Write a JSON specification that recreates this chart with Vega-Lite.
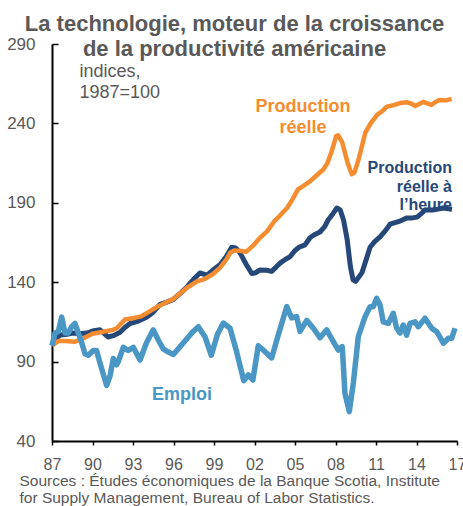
{
  "$schema": "https://vega.github.io/schema/vega-lite/v6.json",
  "width": 405,
  "height": 397,
  "autosize": {"type": "none"},
  "padding": {"left": 52, "top": 44, "right": 6, "bottom": 65},
  "background": "white",
  "config": {"view": {"stroke": null}, "font": "Liberation Sans"},
  "title": {
    "text": ["La technologie, moteur de la croissance", "de la productivité américaine"],
    "font": "Liberation Sans",
    "fontSize": 22,
    "fontWeight": "bold",
    "color": "#595959",
    "anchor": "middle",
    "frame": "group",
    "dx": -20,
    "lineHeight": 25,
    "offset": -26
  },
  "datasets": {
    "series": [
      {"s": "navy", "t": 1987.00, "v": 101},
      {"s": "navy", "t": 1987.30, "v": 104.5},
      {"s": "navy", "t": 1987.59, "v": 106.7},
      {"s": "navy", "t": 1988.00, "v": 107},
      {"s": "navy", "t": 1988.56, "v": 108},
      {"s": "navy", "t": 1989.00, "v": 107.5},
      {"s": "navy", "t": 1989.59, "v": 108},
      {"s": "navy", "t": 1990.10, "v": 109.5},
      {"s": "navy", "t": 1990.56, "v": 110},
      {"s": "navy", "t": 1990.90, "v": 107.5},
      {"s": "navy", "t": 1991.15, "v": 105.5},
      {"s": "navy", "t": 1991.60, "v": 106.5},
      {"s": "navy", "t": 1992.04, "v": 108.5},
      {"s": "navy", "t": 1992.40, "v": 111.5},
      {"s": "navy", "t": 1992.78, "v": 114},
      {"s": "navy", "t": 1993.20, "v": 115},
      {"s": "navy", "t": 1993.52, "v": 116},
      {"s": "navy", "t": 1994.00, "v": 118},
      {"s": "navy", "t": 1994.48, "v": 121},
      {"s": "navy", "t": 1995.00, "v": 126},
      {"s": "navy", "t": 1995.50, "v": 127.5},
      {"s": "navy", "t": 1995.96, "v": 129},
      {"s": "navy", "t": 1996.50, "v": 133},
      {"s": "navy", "t": 1997.00, "v": 137},
      {"s": "navy", "t": 1997.50, "v": 142},
      {"s": "navy", "t": 1997.96, "v": 145.8},
      {"s": "navy", "t": 1998.48, "v": 144.5},
      {"s": "navy", "t": 1998.90, "v": 147.5},
      {"s": "navy", "t": 1999.44, "v": 151},
      {"s": "navy", "t": 1999.90, "v": 156},
      {"s": "navy", "t": 2000.31, "v": 162},
      {"s": "navy", "t": 2000.60, "v": 161.5},
      {"s": "navy", "t": 2000.93, "v": 158.5},
      {"s": "navy", "t": 2001.40, "v": 151},
      {"s": "navy", "t": 2001.80, "v": 145.5},
      {"s": "navy", "t": 2002.10, "v": 146},
      {"s": "navy", "t": 2002.41, "v": 147.7},
      {"s": "navy", "t": 2002.90, "v": 147.5},
      {"s": "navy", "t": 2003.27, "v": 146.8},
      {"s": "navy", "t": 2003.60, "v": 149.5},
      {"s": "navy", "t": 2003.89, "v": 152},
      {"s": "navy", "t": 2004.30, "v": 154.5},
      {"s": "navy", "t": 2004.63, "v": 156},
      {"s": "navy", "t": 2005.00, "v": 160},
      {"s": "navy", "t": 2005.30, "v": 162},
      {"s": "navy", "t": 2005.74, "v": 163.5},
      {"s": "navy", "t": 2006.11, "v": 168},
      {"s": "navy", "t": 2006.40, "v": 169.7},
      {"s": "navy", "t": 2006.85, "v": 171.6},
      {"s": "navy", "t": 2007.20, "v": 175},
      {"s": "navy", "t": 2007.44, "v": 179},
      {"s": "navy", "t": 2007.80, "v": 183},
      {"s": "navy", "t": 2008.10, "v": 186.7},
      {"s": "navy", "t": 2008.35, "v": 185.5},
      {"s": "navy", "t": 2008.60, "v": 179},
      {"s": "navy", "t": 2008.87, "v": 166.6},
      {"s": "navy", "t": 2009.10, "v": 150},
      {"s": "navy", "t": 2009.30, "v": 141.5},
      {"s": "navy", "t": 2009.50, "v": 140.5},
      {"s": "navy", "t": 2009.96, "v": 146},
      {"s": "navy", "t": 2010.30, "v": 155},
      {"s": "navy", "t": 2010.56, "v": 162},
      {"s": "navy", "t": 2010.90, "v": 165.5},
      {"s": "navy", "t": 2011.30, "v": 168.5},
      {"s": "navy", "t": 2011.70, "v": 172.5},
      {"s": "navy", "t": 2012.04, "v": 176.5},
      {"s": "navy", "t": 2012.40, "v": 177.5},
      {"s": "navy", "t": 2012.78, "v": 178.5},
      {"s": "navy", "t": 2013.30, "v": 180.5},
      {"s": "navy", "t": 2013.70, "v": 180.5},
      {"s": "navy", "t": 2014.04, "v": 181},
      {"s": "navy", "t": 2014.40, "v": 183.5},
      {"s": "navy", "t": 2014.63, "v": 185.5},
      {"s": "navy", "t": 2015.22, "v": 185.5},
      {"s": "navy", "t": 2015.60, "v": 186},
      {"s": "navy", "t": 2015.96, "v": 186.7},
      {"s": "navy", "t": 2016.63, "v": 186},

      {"s": "orange", "t": 1987.00, "v": 100},
      {"s": "orange", "t": 1987.47, "v": 103},
      {"s": "orange", "t": 1988.00, "v": 103},
      {"s": "orange", "t": 1988.70, "v": 102.5},
      {"s": "orange", "t": 1989.30, "v": 104.5},
      {"s": "orange", "t": 1990.00, "v": 107.5},
      {"s": "orange", "t": 1990.70, "v": 108.6},
      {"s": "orange", "t": 1991.50, "v": 110},
      {"s": "orange", "t": 1991.80, "v": 111},
      {"s": "orange", "t": 1992.40, "v": 116.5},
      {"s": "orange", "t": 1993.10, "v": 117.5},
      {"s": "orange", "t": 1993.60, "v": 118.5},
      {"s": "orange", "t": 1994.20, "v": 121.5},
      {"s": "orange", "t": 1994.80, "v": 124.5},
      {"s": "orange", "t": 1995.40, "v": 127},
      {"s": "orange", "t": 1996.00, "v": 129.5},
      {"s": "orange", "t": 1996.50, "v": 133},
      {"s": "orange", "t": 1997.00, "v": 136.5},
      {"s": "orange", "t": 1997.74, "v": 140.5},
      {"s": "orange", "t": 1998.30, "v": 142},
      {"s": "orange", "t": 1998.90, "v": 145},
      {"s": "orange", "t": 1999.44, "v": 149},
      {"s": "orange", "t": 1999.90, "v": 154},
      {"s": "orange", "t": 2000.19, "v": 158.5},
      {"s": "orange", "t": 2000.50, "v": 160},
      {"s": "orange", "t": 2000.90, "v": 159.8},
      {"s": "orange", "t": 2001.40, "v": 159.2},
      {"s": "orange", "t": 2001.89, "v": 163},
      {"s": "orange", "t": 2002.41, "v": 168},
      {"s": "orange", "t": 2002.93, "v": 172},
      {"s": "orange", "t": 2003.52, "v": 179},
      {"s": "orange", "t": 2003.89, "v": 182},
      {"s": "orange", "t": 2004.41, "v": 186.7},
      {"s": "orange", "t": 2004.80, "v": 192},
      {"s": "orange", "t": 2005.22, "v": 198.5},
      {"s": "orange", "t": 2005.60, "v": 200.5},
      {"s": "orange", "t": 2006.11, "v": 203.5},
      {"s": "orange", "t": 2006.63, "v": 207.5},
      {"s": "orange", "t": 2007.10, "v": 211},
      {"s": "orange", "t": 2007.40, "v": 215},
      {"s": "orange", "t": 2007.70, "v": 222},
      {"s": "orange", "t": 2008.05, "v": 232},
      {"s": "orange", "t": 2008.20, "v": 232.5},
      {"s": "orange", "t": 2008.50, "v": 228},
      {"s": "orange", "t": 2008.90, "v": 215},
      {"s": "orange", "t": 2009.20, "v": 208},
      {"s": "orange", "t": 2009.40, "v": 209},
      {"s": "orange", "t": 2009.70, "v": 217},
      {"s": "orange", "t": 2010.20, "v": 234},
      {"s": "orange", "t": 2010.60, "v": 240},
      {"s": "orange", "t": 2011.10, "v": 245.5},
      {"s": "orange", "t": 2011.50, "v": 248},
      {"s": "orange", "t": 2011.80, "v": 250.5},
      {"s": "orange", "t": 2012.30, "v": 251.5},
      {"s": "orange", "t": 2012.80, "v": 252.8},
      {"s": "orange", "t": 2013.30, "v": 253.3},
      {"s": "orange", "t": 2013.60, "v": 252.5},
      {"s": "orange", "t": 2013.90, "v": 251},
      {"s": "orange", "t": 2014.50, "v": 253.5},
      {"s": "orange", "t": 2015.10, "v": 251.6},
      {"s": "orange", "t": 2015.40, "v": 253.5},
      {"s": "orange", "t": 2015.70, "v": 254.7},
      {"s": "orange", "t": 2016.20, "v": 254.5},
      {"s": "orange", "t": 2016.60, "v": 255.4},

      {"s": "emploi", "t": 1987.00, "v": 100},
      {"s": "emploi", "t": 1987.22, "v": 108},
      {"s": "emploi", "t": 1987.47, "v": 109},
      {"s": "emploi", "t": 1987.72, "v": 118},
      {"s": "emploi", "t": 1987.96, "v": 108},
      {"s": "emploi", "t": 1988.21, "v": 108},
      {"s": "emploi", "t": 1988.45, "v": 112},
      {"s": "emploi", "t": 1988.70, "v": 114},
      {"s": "emploi", "t": 1988.95, "v": 108},
      {"s": "emploi", "t": 1989.20, "v": 102},
      {"s": "emploi", "t": 1989.44, "v": 95},
      {"s": "emploi", "t": 1989.69, "v": 94},
      {"s": "emploi", "t": 1990.06, "v": 97},
      {"s": "emploi", "t": 1990.30, "v": 97},
      {"s": "emploi", "t": 1990.56, "v": 89},
      {"s": "emploi", "t": 1990.80, "v": 82},
      {"s": "emploi", "t": 1991.05, "v": 75},
      {"s": "emploi", "t": 1991.30, "v": 81},
      {"s": "emploi", "t": 1991.54, "v": 92},
      {"s": "emploi", "t": 1991.79, "v": 88},
      {"s": "emploi", "t": 1991.91, "v": 90},
      {"s": "emploi", "t": 1992.28, "v": 99},
      {"s": "emploi", "t": 1992.65, "v": 97},
      {"s": "emploi", "t": 1993.02, "v": 99},
      {"s": "emploi", "t": 1993.52, "v": 91},
      {"s": "emploi", "t": 1994.01, "v": 102},
      {"s": "emploi", "t": 1994.50, "v": 110},
      {"s": "emploi", "t": 1994.87, "v": 103.6},
      {"s": "emploi", "t": 1995.24, "v": 98},
      {"s": "emploi", "t": 1995.60, "v": 96},
      {"s": "emploi", "t": 1995.99, "v": 94.5},
      {"s": "emploi", "t": 1996.48, "v": 99.4},
      {"s": "emploi", "t": 1996.85, "v": 103},
      {"s": "emploi", "t": 1997.35, "v": 108},
      {"s": "emploi", "t": 1997.84, "v": 112},
      {"s": "emploi", "t": 1998.33, "v": 105.7},
      {"s": "emploi", "t": 1998.80, "v": 94},
      {"s": "emploi", "t": 1999.25, "v": 107},
      {"s": "emploi", "t": 1999.69, "v": 114.3},
      {"s": "emploi", "t": 2000.19, "v": 111},
      {"s": "emploi", "t": 2000.68, "v": 96},
      {"s": "emploi", "t": 2001.20, "v": 78},
      {"s": "emploi", "t": 2001.54, "v": 81.6},
      {"s": "emploi", "t": 2001.88, "v": 78.4},
      {"s": "emploi", "t": 2002.28, "v": 100},
      {"s": "emploi", "t": 2002.65, "v": 97.3},
      {"s": "emploi", "t": 2003.27, "v": 92.3},
      {"s": "emploi", "t": 2003.76, "v": 106.7},
      {"s": "emploi", "t": 2004.39, "v": 124.6},
      {"s": "emploi", "t": 2004.75, "v": 117.5},
      {"s": "emploi", "t": 2005.12, "v": 118.3},
      {"s": "emploi", "t": 2005.37, "v": 109},
      {"s": "emploi", "t": 2005.87, "v": 116},
      {"s": "emploi", "t": 2006.36, "v": 111},
      {"s": "emploi", "t": 2006.85, "v": 105},
      {"s": "emploi", "t": 2007.35, "v": 110},
      {"s": "emploi", "t": 2007.84, "v": 102.5},
      {"s": "emploi", "t": 2008.21, "v": 97.3},
      {"s": "emploi", "t": 2008.50, "v": 99.4},
      {"s": "emploi", "t": 2008.70, "v": 70},
      {"s": "emploi", "t": 2009.02, "v": 58.5},
      {"s": "emploi", "t": 2009.32, "v": 76.5},
      {"s": "emploi", "t": 2009.69, "v": 105.7},
      {"s": "emploi", "t": 2010.19, "v": 118.3},
      {"s": "emploi", "t": 2010.56, "v": 124.6},
      {"s": "emploi", "t": 2010.80, "v": 124.6},
      {"s": "emploi", "t": 2011.05, "v": 129.8},
      {"s": "emploi", "t": 2011.30, "v": 125.6},
      {"s": "emploi", "t": 2011.54, "v": 115},
      {"s": "emploi", "t": 2011.91, "v": 114},
      {"s": "emploi", "t": 2012.28, "v": 120.4},
      {"s": "emploi", "t": 2012.53, "v": 111},
      {"s": "emploi", "t": 2012.78, "v": 108},
      {"s": "emploi", "t": 2013.02, "v": 113},
      {"s": "emploi", "t": 2013.27, "v": 106.7},
      {"s": "emploi", "t": 2013.52, "v": 114},
      {"s": "emploi", "t": 2013.89, "v": 115},
      {"s": "emploi", "t": 2014.13, "v": 112},
      {"s": "emploi", "t": 2014.63, "v": 117.3},
      {"s": "emploi", "t": 2015.13, "v": 111},
      {"s": "emploi", "t": 2015.50, "v": 108.8},
      {"s": "emploi", "t": 2015.99, "v": 101.6},
      {"s": "emploi", "t": 2016.36, "v": 104.7},
      {"s": "emploi", "t": 2016.61, "v": 104.7},
      {"s": "emploi", "t": 2016.85, "v": 111}
    ],
    "labels": [
      {"s": "orange", "t": 2005.6, "v": 250.6, "label": "Production\nréelle"},
      {"s": "navy", "t": 2016.63, "v": 211.9, "label": "Production\nréelle à\nl’heure"},
      {"s": "emploi", "t": 1996.63, "v": 69, "label": "Emploi"}
    ]
  },
  "encoding": {
    "x": {
      "field": "t",
      "type": "quantitative",
      "scale": {"domain": [1987, 2017], "nice": false, "zero": false},
      "axis": {
        "values": [1987, 1990, 1993, 1996, 1999, 2002, 2005, 2008, 2011, 2014, 2017],
        "labelExpr": "substring(format(datum.value, 'd'), 2)",
        "labelFontSize": 16,
        "labelColor": "#595959",
        "labelFont": "Liberation Sans",
        "labelPadding": 11,
        "labelBaseline": "top",
        "labelFlush": false,
        "labelBound": false,
        "labelOverlap": false,
        "grid": false,
        "domainColor": "#000000",
        "domainWidth": 2,
        "tickColor": "#000000",
        "tickWidth": 1.5,
        "tickSize": 4,
        "title": ["Sources : Études économiques de la Banque Scotia, Institute", "for Supply Management, Bureau of Labor Statistics."],
        "titleFont": "Liberation Sans",
        "titleFontSize": 15.5,
        "titleFontWeight": "normal",
        "titleColor": "#595959",
        "titleAlign": "left",
        "titleAnchor": "start",
        "titleBaseline": "top",
        "titleLineHeight": 17.7,
        "titleX": -33,
        "titleY": 32
      }
    },
    "y": {
      "field": "v",
      "type": "quantitative",
      "scale": {"domain": [40, 290], "nice": false, "zero": false},
      "axis": {
        "values": [40, 90, 140, 190, 240, 290],
        "labelFontSize": 17,
        "labelColor": "#595959",
        "labelFont": "Liberation Sans",
        "labelPadding": 23,
        "labelFlush": false,
        "labelBound": false,
        "labelOverlap": false,
        "grid": false,
        "domainColor": "#000000",
        "domainWidth": 2,
        "tickColor": "#000000",
        "tickWidth": 1.5,
        "tickSize": -6,
        "title": ["indices,", "1987=100"],
        "titleFont": "Liberation Sans",
        "titleFontSize": 18,
        "titleFontWeight": "normal",
        "titleColor": "#595959",
        "titleAngle": 0,
        "titleAlign": "left",
        "titleBaseline": "top",
        "titleLineHeight": 21.5,
        "titleX": 27,
        "titleY": 18
      }
    }
  },
  "layer": [
    {
      "data": {"name": "series"},
      "transform": [{"filter": "datum.s === 'navy'"}],
      "mark": {"type": "line", "color": "#264878", "strokeWidth": 5, "strokeJoin": "round", "strokeCap": "butt"}
    },
    {
      "data": {"name": "series"},
      "transform": [{"filter": "datum.s === 'orange'"}],
      "mark": {"type": "line", "color": "#F58C2F", "strokeWidth": 4.5, "strokeJoin": "round", "strokeCap": "butt"}
    },
    {
      "data": {"name": "series"},
      "transform": [{"filter": "datum.s === 'emploi'"}],
      "mark": {"type": "line", "color": "#4A97C5", "strokeWidth": 5.5, "strokeJoin": "round", "strokeCap": "butt"}
    },
    {
      "data": {"name": "labels"},
      "transform": [{"filter": "datum.s === 'orange'"}],
      "mark": {"type": "text", "color": "#F58C2F", "font": "Liberation Sans", "fontSize": 18, "fontWeight": "bold", "align": "center", "baseline": "middle", "lineBreak": "\n", "lineHeight": 21},
      "encoding": {"text": {"field": "label"}}
    },
    {
      "data": {"name": "labels"},
      "transform": [{"filter": "datum.s === 'navy'"}],
      "mark": {"type": "text", "color": "#264878", "font": "Liberation Sans", "fontSize": 16, "fontWeight": "bold", "align": "right", "baseline": "middle", "lineBreak": "\n", "lineHeight": 18.5},
      "encoding": {"text": {"field": "label"}}
    },
    {
      "data": {"name": "labels"},
      "transform": [{"filter": "datum.s === 'emploi'"}],
      "mark": {"type": "text", "color": "#4A97C5", "font": "Liberation Sans", "fontSize": 18, "fontWeight": "bold", "align": "center", "baseline": "middle"},
      "encoding": {"text": {"field": "label"}}
    }
  ]
}
